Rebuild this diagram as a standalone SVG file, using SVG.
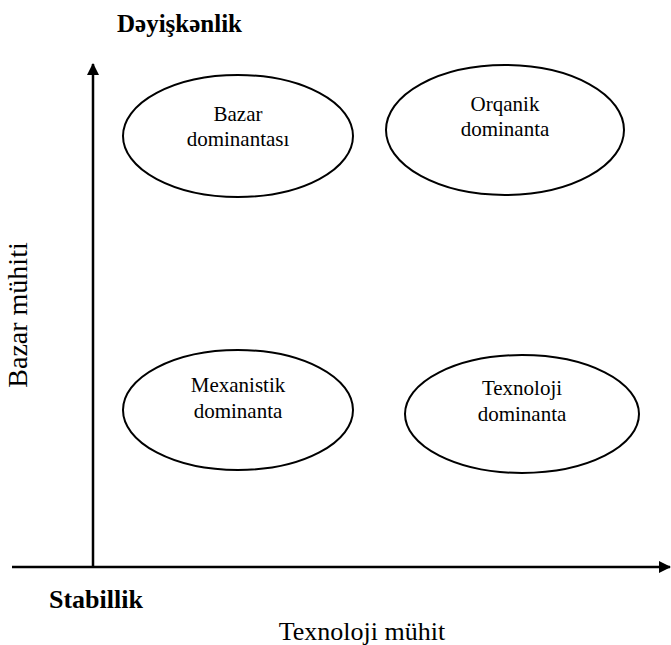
<svg xmlns="http://www.w3.org/2000/svg" width="671" height="645" viewBox="0 0 671 645">
  <style>
    .node ellipse { fill: #ffffff; stroke: #000000; stroke-width: 2; }
    .label { font-family: "Liberation Serif", "Times New Roman", serif; font-size: 21px; fill: #000000; text-anchor: middle; }
    .axis-title { font-family: "Liberation Serif", "Times New Roman", serif; font-size: 25px; font-weight: bold; fill: #000000; }
    .axis-name { font-family: "Liberation Serif", "Times New Roman", serif; font-size: 26px; fill: #000000; text-anchor: middle; }
    .axis { stroke: #000000; stroke-width: 2.5; fill: none; }
  </style>
  <defs>
    <marker id="arrow" markerWidth="12" markerHeight="12" refX="11" refY="6" orient="auto" markerUnits="userSpaceOnUse">
      <path d="M0,0 L12,6 L0,12 Z" fill="#000000"/>
    </marker>
  </defs>
  <rect width="671" height="645" fill="#ffffff"/>

  <!-- axes -->
  <g id="connectors">
    <line class="axis" x1="93" y1="567" x2="93" y2="64" marker-end="url(#arrow)"/>
    <line class="axis" x1="12" y1="567" x2="670" y2="567" marker-end="url(#arrow)"/>
  </g>

  <!-- axis texts -->
  <text class="axis-title" x="117" y="32">Dəyişkənlik</text>
  <text class="axis-title" x="49" y="608" style="font-size:26px">Stabillik</text>
  <text class="axis-name" x="362" y="640">Texnoloji mühit</text>
  <text class="axis-name" transform="translate(27,315) rotate(-90)" x="0" y="0" style="font-size:28px">Bazar mühiti</text>

  <!-- quadrants -->
  <g id="bazar-dominantasi" class="node">
    <ellipse cx="238" cy="136" rx="115" ry="61"/>
    <text class="label" x="238" y="121">Bazar</text>
    <text class="label" x="238" y="146">dominantası</text>
  </g>
  <g id="orqanik-dominanta" class="node">
    <ellipse cx="505" cy="130" rx="119" ry="65"/>
    <text class="label" x="505" y="111">Orqanik</text>
    <text class="label" x="505" y="136">dominanta</text>
  </g>
  <g id="mexanistik-dominanta" class="node">
    <ellipse cx="238" cy="410" rx="115" ry="60"/>
    <text class="label" x="238" y="392">Mexanistik</text>
    <text class="label" x="238" y="418">dominanta</text>
  </g>
  <g id="texnoloji-dominanta" class="node">
    <ellipse cx="522" cy="414" rx="117" ry="59"/>
    <text class="label" x="522" y="395">Texnoloji</text>
    <text class="label" x="522" y="421">dominanta</text>
  </g>
</svg>
